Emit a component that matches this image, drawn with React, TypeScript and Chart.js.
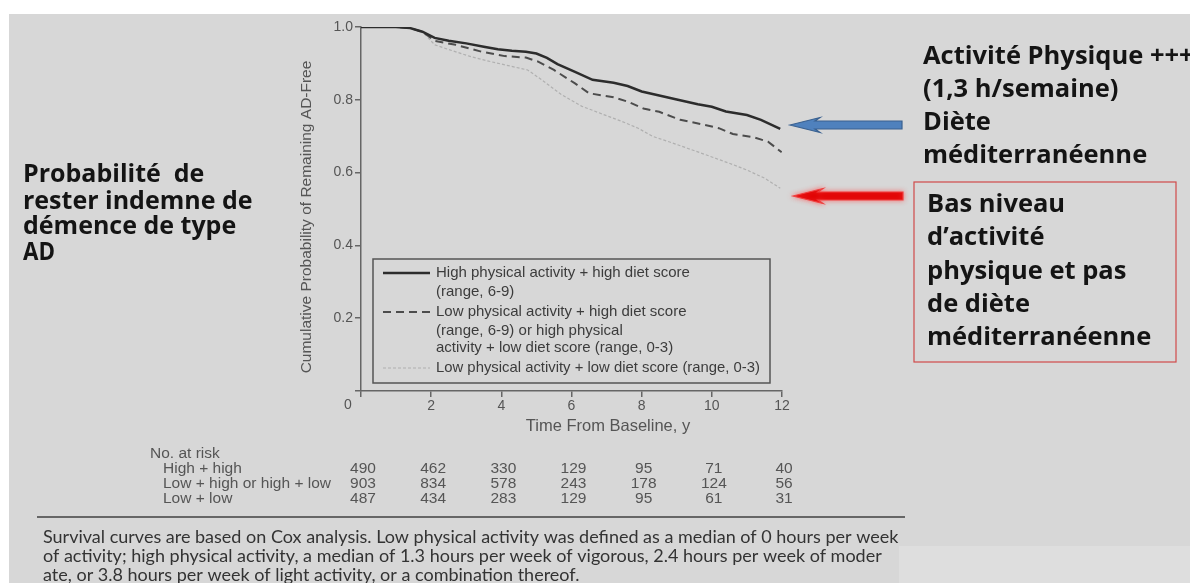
import React, { useEffect, useRef } from 'react';
import { Chart, registerables } from 'chart.js';

Chart.register(...registerables);

// ---------- data ----------
const timeHighHigh = [0, 1.0, 1.4, 1.75, 2.1, 2.5, 3.0, 3.5, 3.9, 4.3, 4.7, 5.0, 5.3, 5.6, 6.1, 6.6, 7.2, 7.6, 8.0, 8.5, 9.0, 9.6, 10.0, 10.4, 10.7, 11.0, 11.4, 11.95];
const survHighHigh = [1.0, 1.0, 0.997, 0.987, 0.97, 0.962, 0.955, 0.946, 0.939, 0.935, 0.932, 0.927, 0.915, 0.898, 0.877, 0.855, 0.847, 0.838, 0.823, 0.812, 0.801, 0.788, 0.781, 0.768, 0.763, 0.758, 0.745, 0.72];

const timeMixed = [0, 1.0, 1.4, 1.75, 2.1, 2.7, 3.4, 4.1, 4.7, 5.05, 5.5, 6.1, 6.5, 7.2, 7.6, 8.05, 8.5, 9.1, 9.7, 10.2, 10.6, 11.2, 11.6, 11.99];
const survMixed = [1.0, 1.0, 0.997, 0.987, 0.962, 0.951, 0.933, 0.92, 0.916, 0.905, 0.882, 0.845, 0.818, 0.807, 0.795, 0.776, 0.767, 0.745, 0.733, 0.722, 0.706, 0.697, 0.685, 0.656];

const timeLowLow = [0, 1.0, 1.4, 1.75, 2.1, 2.6, 3.15, 3.6, 4.1, 4.75, 5.15, 5.7, 6.3, 6.9, 7.4, 7.9, 8.3, 8.8, 9.3, 9.8, 10.2, 10.6, 11.0, 11.5, 11.95];
const survLowLow = [1.0, 1.0, 0.997, 0.987, 0.951, 0.935, 0.918, 0.907, 0.896, 0.882, 0.855, 0.815, 0.782, 0.76, 0.742, 0.722, 0.7, 0.684, 0.667, 0.65, 0.636, 0.622, 0.607, 0.585, 0.557];

const xTickStep = 2;
const yTickStep = 0.2;

const riskTimes = [0, 2, 4, 6, 8, 10, 12];
const riskGroups = ['High + high', 'Low + high or high + low', 'Low + low'];
const riskHighHigh = [490, 462, 330, 129, 95, 71, 40];
const riskMixed = [903, 834, 578, 243, 178, 124, 56];
const riskLowLow = [487, 434, 283, 129, 95, 61, 31];

const legendLines = [
  ['High physical activity + high diet score', '(range, 6-9)'],
  ['Low physical activity + high diet score', '(range, 6-9) or high physical', 'activity + low diet score (range, 0-3)'],
  ['Low physical activity + low diet score (range, 0-3)'],
];

const yAxisTitle = 'Cumulative Probability of Remaining AD-Free';
const xAxisTitle = 'Time From Baseline, y';

const leftNote = ['Probabilité  de', 'rester indemne de', 'démence de type', 'AD'];
const rightNote = ['Activité Physique +++', '(1,3 h/semaine)', 'Diète', 'méditerranéenne'];
const boxNote = ['Bas niveau', 'd\u2019activité', 'physique et pas', 'de diète', 'méditerranéenne'];
const captionLines = [
  'Survival curves are based on Cox analysis. Low physical activity was defined as a median of 0 hours per week',
  'of activity; high physical activity, a median of 1.3 hours per week of vigorous, 2.4 hours per week of moder',
  'ate, or 3.8 hours per week of light activity, or a combination thereof.',
];

// ---------- layout constants ----------
const W = 1190;
const H = 583;
const AXIS_FONT = '"Liberation Sans", Arial, sans-serif';
const NOTE_FONT = '"Open Sans", "Noto Sans", sans-serif';
const CAPTION_FONT = 'Lato, "Open Sans", sans-serif';

function drawArrow(ctx: CanvasRenderingContext2D, tipX: number, endX: number, y: number, fill: string, stroke: string, glow?: string) {
  const headLen = 30;
  const headHalf = 7.5;
  const shaftHalf = 4;
  ctx.save();
  if (glow) {
    ctx.shadowColor = glow;
    ctx.shadowBlur = 5;
  }
  ctx.beginPath();
  ctx.moveTo(tipX, y);
  ctx.lineTo(tipX + headLen, y - headHalf);
  ctx.lineTo(tipX + headLen - 5, y - shaftHalf);
  ctx.lineTo(endX, y - shaftHalf);
  ctx.lineTo(endX, y + shaftHalf);
  ctx.lineTo(tipX + headLen - 5, y + shaftHalf);
  ctx.lineTo(tipX + headLen, y + headHalf);
  ctx.closePath();
  ctx.fillStyle = fill;
  ctx.fill();
  ctx.strokeStyle = stroke;
  ctx.lineWidth = 1.2;
  ctx.stroke();
  ctx.restore();
}

const decorPlugin = {
  id: 'decor',
  beforeDraw(chart: any) {
    const ctx = chart.ctx as CanvasRenderingContext2D;
    ctx.save();
    ctx.fillStyle = '#ffffff';
    ctx.fillRect(0, 0, W, H);
    ctx.fillStyle = '#d7d7d7';
    ctx.fillRect(9, 14, W - 9, H - 14);
    ctx.fillStyle = '#dedede';
    ctx.fillRect(899, 546, W - 899, H - 546);
    ctx.restore();
  },
  afterDraw(chart: any) {
    const ctx = chart.ctx as CanvasRenderingContext2D;
    const xs = chart.scales.x;
    ctx.save();
    ctx.textBaseline = 'middle';

    // origin label
    ctx.fillStyle = '#555';
    ctx.font = `14px ${AXIS_FONT}`;
    ctx.textAlign = 'center';
    ctx.fillText('0', 348, 405);

    // axis titles
    ctx.font = `16.5px ${AXIS_FONT}`;
    ctx.fillText(xAxisTitle, 608, 426);
    ctx.save();
    ctx.translate(307, 217);
    ctx.rotate(-Math.PI / 2);
    ctx.font = `15.5px ${AXIS_FONT}`;
    ctx.fillText(yAxisTitle, 0, 0, 322);
    ctx.restore();

    // legend box
    ctx.strokeStyle = '#555';
    ctx.lineWidth = 1.5;
    ctx.strokeRect(373, 259, 397, 124);
    const sampleY = [273, 312, 368];
    const textY = [[273, 292], [312, 331, 348], [368]];
    const maxW = [[263, 120], [262, 200, 250], [324]];
    chart.data.datasets.forEach((ds: any, i: number) => {
      ctx.save();
      ctx.strokeStyle = ds.borderColor;
      ctx.lineWidth = ds.borderWidth;
      ctx.setLineDash(ds.borderDash || []);
      ctx.beginPath();
      ctx.moveTo(383, sampleY[i]);
      ctx.lineTo(430, sampleY[i]);
      ctx.stroke();
      ctx.restore();
      ctx.fillStyle = '#3c3c3c';
      ctx.font = `15px ${AXIS_FONT}`;
      ctx.textAlign = 'left';
      legendLines[i].forEach((t, j) => ctx.fillText(t, 436, textY[i][j], maxW[i][j]));
    });

    // number at risk table
    ctx.fillStyle = '#555';
    ctx.font = `15.5px ${AXIS_FONT}`;
    ctx.textAlign = 'left';
    ctx.fillText('No. at risk', 150, 454);
    const rowY = [469, 484, 499];
    const rows = [riskHighHigh, riskMixed, riskLowLow];
    riskGroups.forEach((g, i) => {
      ctx.textAlign = 'left';
      ctx.fillText(g, 163, rowY[i]);
      ctx.textAlign = 'center';
      rows[i].forEach((n, j) => ctx.fillText(String(n), xs.getPixelForValue(riskTimes[j]) + 2, rowY[i]));
    });

    // separator + caption
    ctx.strokeStyle = '#666';
    ctx.lineWidth = 2;
    ctx.beginPath();
    ctx.moveTo(37, 517);
    ctx.lineTo(905, 517);
    ctx.stroke();
    ctx.fillStyle = '#333';
    ctx.font = `18px ${CAPTION_FONT}`;
    ctx.textAlign = 'left';
    const capW = [861, 854, 540];
    captionLines.forEach((t, i) => ctx.fillText(t, 43, 537 + i * 19, capW[i]));

    // left note
    ctx.fillStyle = '#141414';
    ctx.font = `bold 25px ${NOTE_FONT}`;
    const leftY = [175, 202, 227, 253];
    const leftW = [185, 230, 215, 32];
    leftNote.forEach((t, i) => ctx.fillText(t, 23, leftY[i], leftW[i]));

    // right notes
    ctx.font = `bold 25.5px ${NOTE_FONT}`;
    const rightY = [57, 90, 123, 156];
    rightNote.forEach((t, i) => ctx.fillText(t, 923, rightY[i]));
    ctx.strokeStyle = '#d04a4a';
    ctx.lineWidth = 1.2;
    ctx.strokeRect(914, 182, 262, 180);
    const boxY = [205, 238, 272, 305, 338];
    boxNote.forEach((t, i) => ctx.fillText(t, 927, boxY[i], 240));

    // arrows
    drawArrow(ctx, 790, 902, 125, '#4f81bd', '#3a6190');
    drawArrow(ctx, 793, 903, 196, '#e00000', '#f04040', 'rgba(255,90,90,0.8)');

    ctx.restore();
  },
};

export default function App() {
  const ref = useRef<HTMLCanvasElement | null>(null);
  useEffect(() => {
    document.body.style.margin = '0';
    const canvas = ref.current;
    if (!canvas) return;
    const toPts = (t: number[], v: number[]) => t.map((x, i) => ({ x, y: v[i] }));
    const tickCommon = { font: { family: AXIS_FONT, size: 14 }, color: '#555' };
    const chart = new Chart(canvas, {
      type: 'line',
      data: {
        datasets: [
          { label: legendLines[0].join(' '), data: toPts(timeHighHigh, survHighHigh), borderColor: '#2c2c2c', borderWidth: 2.5, pointRadius: 0, tension: 0, fill: false },
          { label: legendLines[1].join(' '), data: toPts(timeMixed, survMixed), borderColor: '#4c4c4c', borderWidth: 2, borderDash: [8, 5], pointRadius: 0, tension: 0, fill: false },
          { label: legendLines[2].join(' '), data: toPts(timeLowLow, survLowLow), borderColor: '#b0b0b0', borderWidth: 1.2, borderDash: [3, 2], pointRadius: 0, tension: 0, fill: false },
        ],
      },
      options: {
        animation: false,
        responsive: false,
        maintainAspectRatio: false,
        layout: { padding: { left: 0, top: 27, right: W - 782, bottom: H - 391 - 30 } },
        plugins: { legend: { display: false }, tooltip: { enabled: false } },
        scales: {
          x: {
            type: 'linear',
            min: 0,
            max: 12,
            afterFit: (s: any) => { s.height = 30; },
            ticks: { ...tickCommon, stepSize: xTickStep, padding: 1, maxRotation: 0, autoSkip: false, callback: (v: any) => (v === 0 ? '' : String(v)) },
            grid: { drawOnChartArea: false, drawTicks: true, tickLength: 6, color: '#666', lineWidth: 1.5 },
            border: { display: true, color: '#666', width: 1.5 },
          },
          y: {
            min: 0,
            max: 1,
            afterFit: (s: any) => { s.width = 361; },
            ticks: { ...tickCommon, stepSize: yTickStep, padding: 2, callback: (v: any) => (Math.abs(v) < 1e-9 ? '' : Number(v).toFixed(1)) },
            grid: { drawOnChartArea: false, drawTicks: true, tickLength: 6, color: '#666', lineWidth: 1.5 },
            border: { display: true, color: '#666', width: 1.5 },
          },
        },
      },
      plugins: [decorPlugin],
    } as any);
    return () => chart.destroy();
  }, []);
  return (
    <div style={{ position: 'fixed', left: 0, top: 0, width: W, height: H }}>
      <canvas ref={ref} width={W} height={H} style={{ display: 'block', width: W, height: H }} />
    </div>
  );
}
